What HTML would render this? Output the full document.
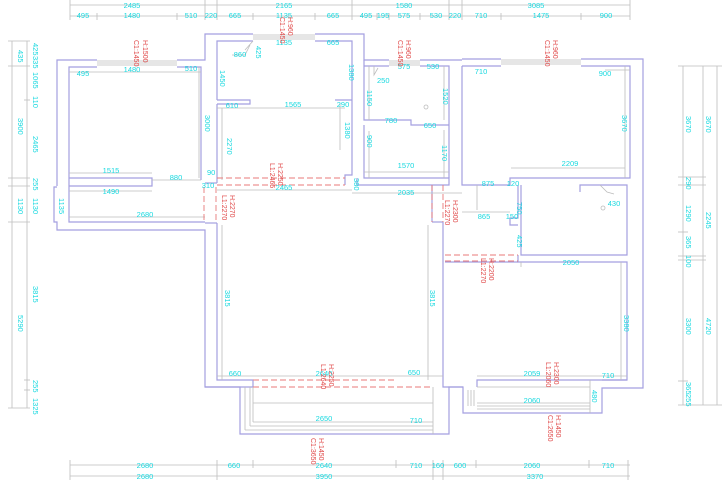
<!DOCTYPE html>
<html><head><meta charset="utf-8"><style>
html,body{margin:0;padding:0;background:#fff;}
svg{display:block;}
text{font-family:"Liberation Sans",sans-serif;font-size:7.5px;fill:#19d9e0;}
.r{fill:#e04848;font-size:7px;}
.w{fill:none;stroke:#a49fe0;stroke-width:1.2;}
.g{fill:none;stroke:#bdbdbd;stroke-width:0.8;}
.d{fill:none;stroke:#e87a7a;stroke-width:0.9;stroke-dasharray:6,3;}
</style></head><body>
<svg width="728" height="485" viewBox="0 0 728 485" xmlns="http://www.w3.org/2000/svg">
<g class="g">
<line x1="70" y1="5" x2="630" y2="5"/><line x1="70" y1="16" x2="630" y2="16"/>
<line x1="70" y1="0" x2="70" y2="20"/><line x1="205" y1="0" x2="205" y2="20"/><line x1="217" y1="0" x2="217" y2="20"/>
<line x1="352" y1="0" x2="352" y2="20"/><line x1="449" y1="0" x2="449" y2="20"/><line x1="462" y1="0" x2="462" y2="20"/><line x1="630" y1="0" x2="630" y2="20"/>
<line x1="97" y1="13" x2="97" y2="20"/><line x1="177" y1="13" x2="177" y2="20"/><line x1="253" y1="13" x2="253" y2="20"/><line x1="315" y1="13" x2="315" y2="20"/>
<line x1="377" y1="13" x2="377" y2="20"/><line x1="389" y1="13" x2="389" y2="20"/><line x1="420" y1="13" x2="420" y2="20"/><line x1="501" y1="13" x2="501" y2="20"/><line x1="581" y1="13" x2="581" y2="20"/>
<line x1="70" y1="465" x2="630" y2="465"/><line x1="70" y1="476" x2="630" y2="476"/>
<line x1="70" y1="460" x2="70" y2="480"/><line x1="217" y1="460" x2="217" y2="480"/><line x1="253" y1="460" x2="253" y2="468"/><line x1="396" y1="460" x2="396" y2="468"/><line x1="433" y1="460" x2="433" y2="480"/><line x1="443" y1="460" x2="443" y2="480"/><line x1="476" y1="460" x2="476" y2="468"/><line x1="589" y1="460" x2="589" y2="468"/><line x1="628" y1="460" x2="628" y2="480"/>
<line x1="12" y1="41" x2="12" y2="408"/><line x1="27" y1="41" x2="27" y2="408"/>
<line x1="8" y1="41" x2="30" y2="41"/><line x1="8" y1="66" x2="30" y2="66"/><line x1="24" y1="100" x2="30" y2="100"/><line x1="8" y1="178" x2="30" y2="178"/><line x1="8" y1="186" x2="30" y2="186"/><line x1="8" y1="222" x2="30" y2="222"/><line x1="24" y1="380" x2="30" y2="380"/><line x1="24" y1="390" x2="30" y2="390"/><line x1="8" y1="408" x2="30" y2="408"/>
<line x1="683" y1="66" x2="683" y2="405"/><line x1="703" y1="66" x2="703" y2="405"/><line x1="717" y1="66" x2="717" y2="405"/>
<line x1="678" y1="66" x2="722" y2="66"/><line x1="678" y1="177" x2="706" y2="177"/><line x1="678" y1="185" x2="706" y2="185"/><line x1="678" y1="232" x2="688" y2="232"/><line x1="678" y1="256" x2="706" y2="256"/><line x1="678" y1="260" x2="706" y2="260"/><line x1="678" y1="381" x2="688" y2="381"/><line x1="678" y1="405" x2="722" y2="405"/>
</g>
<g class="w">
<polyline points="57,186 57,60 97,60"/>
<polyline points="177,60 205,60 205,34 253,34"/>
<polyline points="315,34 364,34 364,60 389,60"/>
<polyline points="420,60 462,60"/>
<polyline points="462,59 501,59"/><polyline points="581,59 643,59 643,388 602,388 602,413 463,413 463,387 449,387 449,434 240,434 240,387 205,387 205,230 57,230 57,222 54,222 54,187 57,187"/>
<polyline points="69,186 69,67 97,67"/><polyline points="177,67 201,67 201,180"/>
<polyline points="69,186 152,186 152,178 69,178"/>
<polyline points="69,186 69,222 205,222"/>
<polyline points="217,100 217,41 253,41"/><polyline points="315,41 352,41 352,175 345,175 345,185"/>
<polyline points="217,100 250,100 250,104 217,104"/><polyline points="335,100 352,100"/>
<polyline points="217,104 217,183"/><polyline points="205,183 217,183"/>
<polyline points="217,223 217,380 253,380 253,387 205,387"/>
<polyline points="217,223 205,223"/>
<polyline points="364,66 389,66"/><polyline points="420,66 449,66 449,178"/>
<polyline points="364,60 364,120 411,120 411,125 449,125"/><polyline points="364,125 364,178 449,178 449,185 357,185 357,178"/>
<polyline points="462,66 462,185 510,185 510,178 630,178 630,66 581,66"/><polyline points="462,66 501,66"/>
<polyline points="443,222 443,387 449,387"/><polyline points="432,222 443,222"/><polyline points="432,185 432,222"/>
<polyline points="521,185 521,255 627,255 627,185 580,185 580,192"/>
<polyline points="518,185 518,218 510,218 510,225 518,225"/>
<polyline points="518,255 518,262 627,262 627,380 477,380 477,387"/><polyline points="445,262 518,262"/>
<polyline points="449,387 463,387"/><polyline points="602,380 627,380"/>
</g>
<g class="g">
<line x1="97" y1="61" x2="177" y2="61"/><line x1="97" y1="63" x2="177" y2="63"/><line x1="97" y1="65" x2="177" y2="65"/>
<line x1="253" y1="35" x2="315" y2="35"/><line x1="253" y1="37" x2="315" y2="37"/><line x1="253" y1="39" x2="315" y2="39"/>
<line x1="389" y1="61" x2="420" y2="61"/><line x1="389" y1="63" x2="420" y2="63"/><line x1="389" y1="65" x2="420" y2="65"/>
<line x1="501" y1="60" x2="581" y2="60"/><line x1="501" y1="62" x2="581" y2="62"/><line x1="501" y1="64" x2="581" y2="64"/>
<line x1="69" y1="72" x2="201" y2="72"/><line x1="69" y1="173" x2="152" y2="173"/><line x1="152" y1="180" x2="201" y2="180"/><line x1="199" y1="67" x2="199" y2="178"/>
<line x1="69" y1="191" x2="152" y2="191"/><line x1="69" y1="217" x2="205" y2="217"/>
<line x1="217" y1="108" x2="345" y2="108"/><line x1="222" y1="108" x2="222" y2="180"/><line x1="340" y1="103" x2="340" y2="150"/>
<line x1="217" y1="190" x2="352" y2="190"/><line x1="352" y1="193" x2="462" y2="193"/>
<line x1="222" y1="225" x2="222" y2="380"/><line x1="428" y1="225" x2="428" y2="380"/>
<line x1="217" y1="376" x2="443" y2="376"/>
<line x1="245" y1="387" x2="245" y2="430"/><line x1="250" y1="387" x2="250" y2="426"/><line x1="253" y1="387" x2="253" y2="422"/>
<line x1="253" y1="422" x2="433" y2="422"/><line x1="250" y1="426" x2="433" y2="426"/><line x1="245" y1="430" x2="433" y2="430"/>
<line x1="253" y1="403" x2="433" y2="403"/><line x1="433" y1="387" x2="433" y2="434"/>
<line x1="369" y1="66" x2="369" y2="120"/><line x1="369" y1="131" x2="369" y2="178"/><line x1="444" y1="66" x2="444" y2="120"/><line x1="444" y1="130" x2="444" y2="178"/>
<line x1="364" y1="172" x2="449" y2="172"/>
<line x1="511" y1="168" x2="625" y2="168"/><line x1="625" y1="66" x2="625" y2="178"/><line x1="605" y1="70" x2="630" y2="70"/>
<line x1="462" y1="212" x2="510" y2="212"/><line x1="477" y1="185" x2="477" y2="210"/>
<line x1="521" y1="262" x2="521" y2="267"/><line x1="621" y1="262" x2="621" y2="380"/>
<line x1="477" y1="376" x2="627" y2="376"/><line x1="477" y1="387" x2="590" y2="387"/><line x1="477" y1="403" x2="590" y2="403"/><line x1="477" y1="406" x2="590" y2="406"/><line x1="477" y1="409" x2="590" y2="409"/>
<line x1="468" y1="390" x2="468" y2="406"/><line x1="471" y1="390" x2="471" y2="406"/><line x1="474" y1="390" x2="474" y2="406"/><line x1="590" y1="380" x2="590" y2="413"/>
<path d="M245,50 L253,41 M232,55 L245,55 L250,45"/>
<path d="M374,66 L374,75 L378,68"/>
<path d="M600,185 L607,192 L614,194"/>
<circle cx="426" cy="107" r="2"/><circle cx="603" cy="208" r="2"/>
</g>
<g class="d">
<line x1="217" y1="178" x2="345" y2="178"/><line x1="217" y1="185" x2="345" y2="185"/>
<line x1="204" y1="187" x2="204" y2="222"/><line x1="216" y1="187" x2="216" y2="222"/>
<line x1="432" y1="185" x2="432" y2="222"/><line x1="443" y1="185" x2="443" y2="222"/>
<line x1="445" y1="255" x2="518" y2="255"/><line x1="445" y1="261" x2="518" y2="261"/>
<line x1="253" y1="380" x2="396" y2="380"/><line x1="253" y1="387" x2="433" y2="387"/>
</g>
<text x="132" y="8" text-anchor="middle">2485</text><text x="284" y="8" text-anchor="middle">2165</text><text x="404" y="8" text-anchor="middle">1580</text><text x="536" y="8" text-anchor="middle">3085</text>
<text x="83" y="18" text-anchor="middle">495</text><text x="132" y="18" text-anchor="middle">1480</text><text x="191" y="18" text-anchor="middle">510</text><text x="211" y="18" text-anchor="middle">220</text><text x="235" y="18" text-anchor="middle">665</text><text x="284" y="18" text-anchor="middle">1135</text><text x="333" y="18" text-anchor="middle">665</text><text x="366" y="18" text-anchor="middle">495</text><text x="383" y="18" text-anchor="middle">195</text><text x="404" y="18" text-anchor="middle">575</text><text x="436" y="18" text-anchor="middle">530</text><text x="455" y="18" text-anchor="middle">220</text><text x="481" y="18" text-anchor="middle">710</text><text x="541" y="18" text-anchor="middle">1475</text><text x="606" y="18" text-anchor="middle">900</text>
<text x="145" y="468" text-anchor="middle">2680</text><text x="234" y="468" text-anchor="middle">660</text><text x="324" y="468" text-anchor="middle">2640</text><text x="416" y="468" text-anchor="middle">710</text><text x="438" y="468" text-anchor="middle">160</text><text x="460" y="468" text-anchor="middle">600</text><text x="532" y="468" text-anchor="middle">2060</text><text x="608" y="468" text-anchor="middle">710</text>
<text x="145" y="479" text-anchor="middle">2680</text><text x="324" y="479" text-anchor="middle">3950</text><text x="535" y="479" text-anchor="middle">3370</text>
<text x="83" y="76" text-anchor="middle">495</text><text x="132" y="72" text-anchor="middle">1480</text><text x="191" y="71" text-anchor="middle">510</text>
<text x="111" y="173" text-anchor="middle">1515</text><text x="176" y="180" text-anchor="middle">880</text><text x="111" y="194" text-anchor="middle">1490</text><text x="145" y="217" text-anchor="middle">2680</text><text x="208" y="188" text-anchor="middle">310</text><text x="207" y="175">90</text>
<text x="240" y="57" text-anchor="middle">860</text><text x="284" y="45" text-anchor="middle">1135</text><text x="333" y="45" text-anchor="middle">665</text>
<text x="232" y="108" text-anchor="middle">610</text><text x="293" y="107" text-anchor="middle">1565</text><text x="343" y="107" text-anchor="middle">290</text>
<text x="284" y="190" text-anchor="middle">2465</text><text x="406" y="195" text-anchor="middle">2035</text>
<text x="404" y="69" text-anchor="middle">575</text><text x="433" y="69" text-anchor="middle">530</text><text x="377" y="83">250</text>
<text x="391" y="123" text-anchor="middle">780</text><text x="430" y="128" text-anchor="middle">650</text><text x="406" y="168" text-anchor="middle">1570</text>
<text x="481" y="74" text-anchor="middle">710</text><text x="605" y="76" text-anchor="middle">900</text><text x="570" y="166" text-anchor="middle">2209</text>
<text x="488" y="186" text-anchor="middle">875</text><text x="513" y="186" text-anchor="middle">120</text><text x="484" y="219" text-anchor="middle">865</text><text x="512" y="219" text-anchor="middle">150</text><text x="614" y="206" text-anchor="middle">430</text>
<text x="571" y="265" text-anchor="middle">2050</text>
<text x="235" y="376" text-anchor="middle">660</text><text x="324" y="376" text-anchor="middle">2640</text><text x="414" y="375" text-anchor="middle">650</text>
<text x="324" y="421" text-anchor="middle">2650</text><text x="416" y="423" text-anchor="middle">710</text>
<text x="532" y="376" text-anchor="middle">2059</text><text x="608" y="378" text-anchor="middle">710</text><text x="532" y="403" text-anchor="middle">2060</text>
<g>
<text transform="translate(18,50) rotate(90)">435</text><text transform="translate(18,118) rotate(90)">3900</text><text transform="translate(18,198) rotate(90)">1130</text><text transform="translate(18,315) rotate(90)">5290</text>
<text transform="translate(33,43) rotate(90)">425</text><text transform="translate(33,56) rotate(90)">335</text><text transform="translate(33,72) rotate(90)">1065</text><text transform="translate(33,96) rotate(90)">110</text><text transform="translate(33,136) rotate(90)">2465</text><text transform="translate(33,178) rotate(90)">255</text><text transform="translate(33,198) rotate(90)">1130</text><text transform="translate(33,286) rotate(90)">3815</text><text transform="translate(33,380) rotate(90)">255</text><text transform="translate(33,398) rotate(90)">1325</text>
<text transform="translate(59,198) rotate(90)">1135</text>
<text transform="translate(205,115) rotate(90)">3000</text><text transform="translate(227,138) rotate(90)">2270</text><text transform="translate(225,290) rotate(90)">3815</text><text transform="translate(430,290) rotate(90)">3815</text>
<text transform="translate(220,70) rotate(90)">1450</text><text transform="translate(349,64) rotate(90)">1380</text><text transform="translate(345,122) rotate(90)">1380</text><text transform="translate(256,46) rotate(90)">425</text>
<text transform="translate(367,90) rotate(90)">1150</text><text transform="translate(367,135) rotate(90)">900</text><text transform="translate(443,88) rotate(90)">1520</text><text transform="translate(442,145) rotate(90)">1170</text><text transform="translate(354,178) rotate(90)">380</text>
<text transform="translate(622,115) rotate(90)">3670</text><text transform="translate(517,202) rotate(90)">750</text><text transform="translate(517,235) rotate(90)">425</text><text transform="translate(624,315) rotate(90)">3380</text><text transform="translate(592,390) rotate(90)">480</text>
<text transform="translate(686,116) rotate(90)">3670</text><text transform="translate(706,116) rotate(90)">3670</text><text transform="translate(686,177) rotate(90)">290</text><text transform="translate(686,205) rotate(90)">1290</text><text transform="translate(706,212) rotate(90)">2245</text><text transform="translate(686,236) rotate(90)">365</text><text transform="translate(686,255) rotate(90)">100</text><text transform="translate(686,318) rotate(90)">3300</text><text transform="translate(706,318) rotate(90)">4720</text><text transform="translate(686,382) rotate(90)">365</text><text transform="translate(686,394) rotate(90)">255</text>
</g>
<g>
<text class="r" transform="translate(134,40) rotate(90)">C1:1450</text><text class="r" transform="translate(143,40) rotate(90)">H:1500</text>
<text class="r" transform="translate(280,17) rotate(90)">C1:1450</text><text class="r" transform="translate(288,17) rotate(90)">H:960</text>
<text class="r" transform="translate(398,40) rotate(90)">C1:1450</text><text class="r" transform="translate(406,40) rotate(90)">H:960</text>
<text class="r" transform="translate(545,40) rotate(90)">C1:1450</text><text class="r" transform="translate(553,40) rotate(90)">H:960</text>
<text class="r" transform="translate(270,163) rotate(90)">L1:2465</text><text class="r" transform="translate(278,163) rotate(90)">H:2250</text>
<text class="r" transform="translate(222,195) rotate(90)">L1:2270</text><text class="r" transform="translate(230,195) rotate(90)">H:2270</text>
<text class="r" transform="translate(445,200) rotate(90)">L1:2270</text><text class="r" transform="translate(453,200) rotate(90)">H:2300</text>
<text class="r" transform="translate(481,258) rotate(90)">L1:2270</text><text class="r" transform="translate(489,258) rotate(90)">H:2200</text>
<text class="r" transform="translate(321,364) rotate(90)">L1:2640</text><text class="r" transform="translate(329,364) rotate(90)">H:2250</text>
<text class="r" transform="translate(311,438) rotate(90)">C1:3650</text><text class="r" transform="translate(319,438) rotate(90)">H:1450</text>
<text class="r" transform="translate(546,362) rotate(90)">L1:2060</text><text class="r" transform="translate(554,362) rotate(90)">H:2300</text>
<text class="r" transform="translate(548,415) rotate(90)">C1:2650</text><text class="r" transform="translate(556,415) rotate(90)">H:1450</text>
</g>
</svg>
</body></html>
